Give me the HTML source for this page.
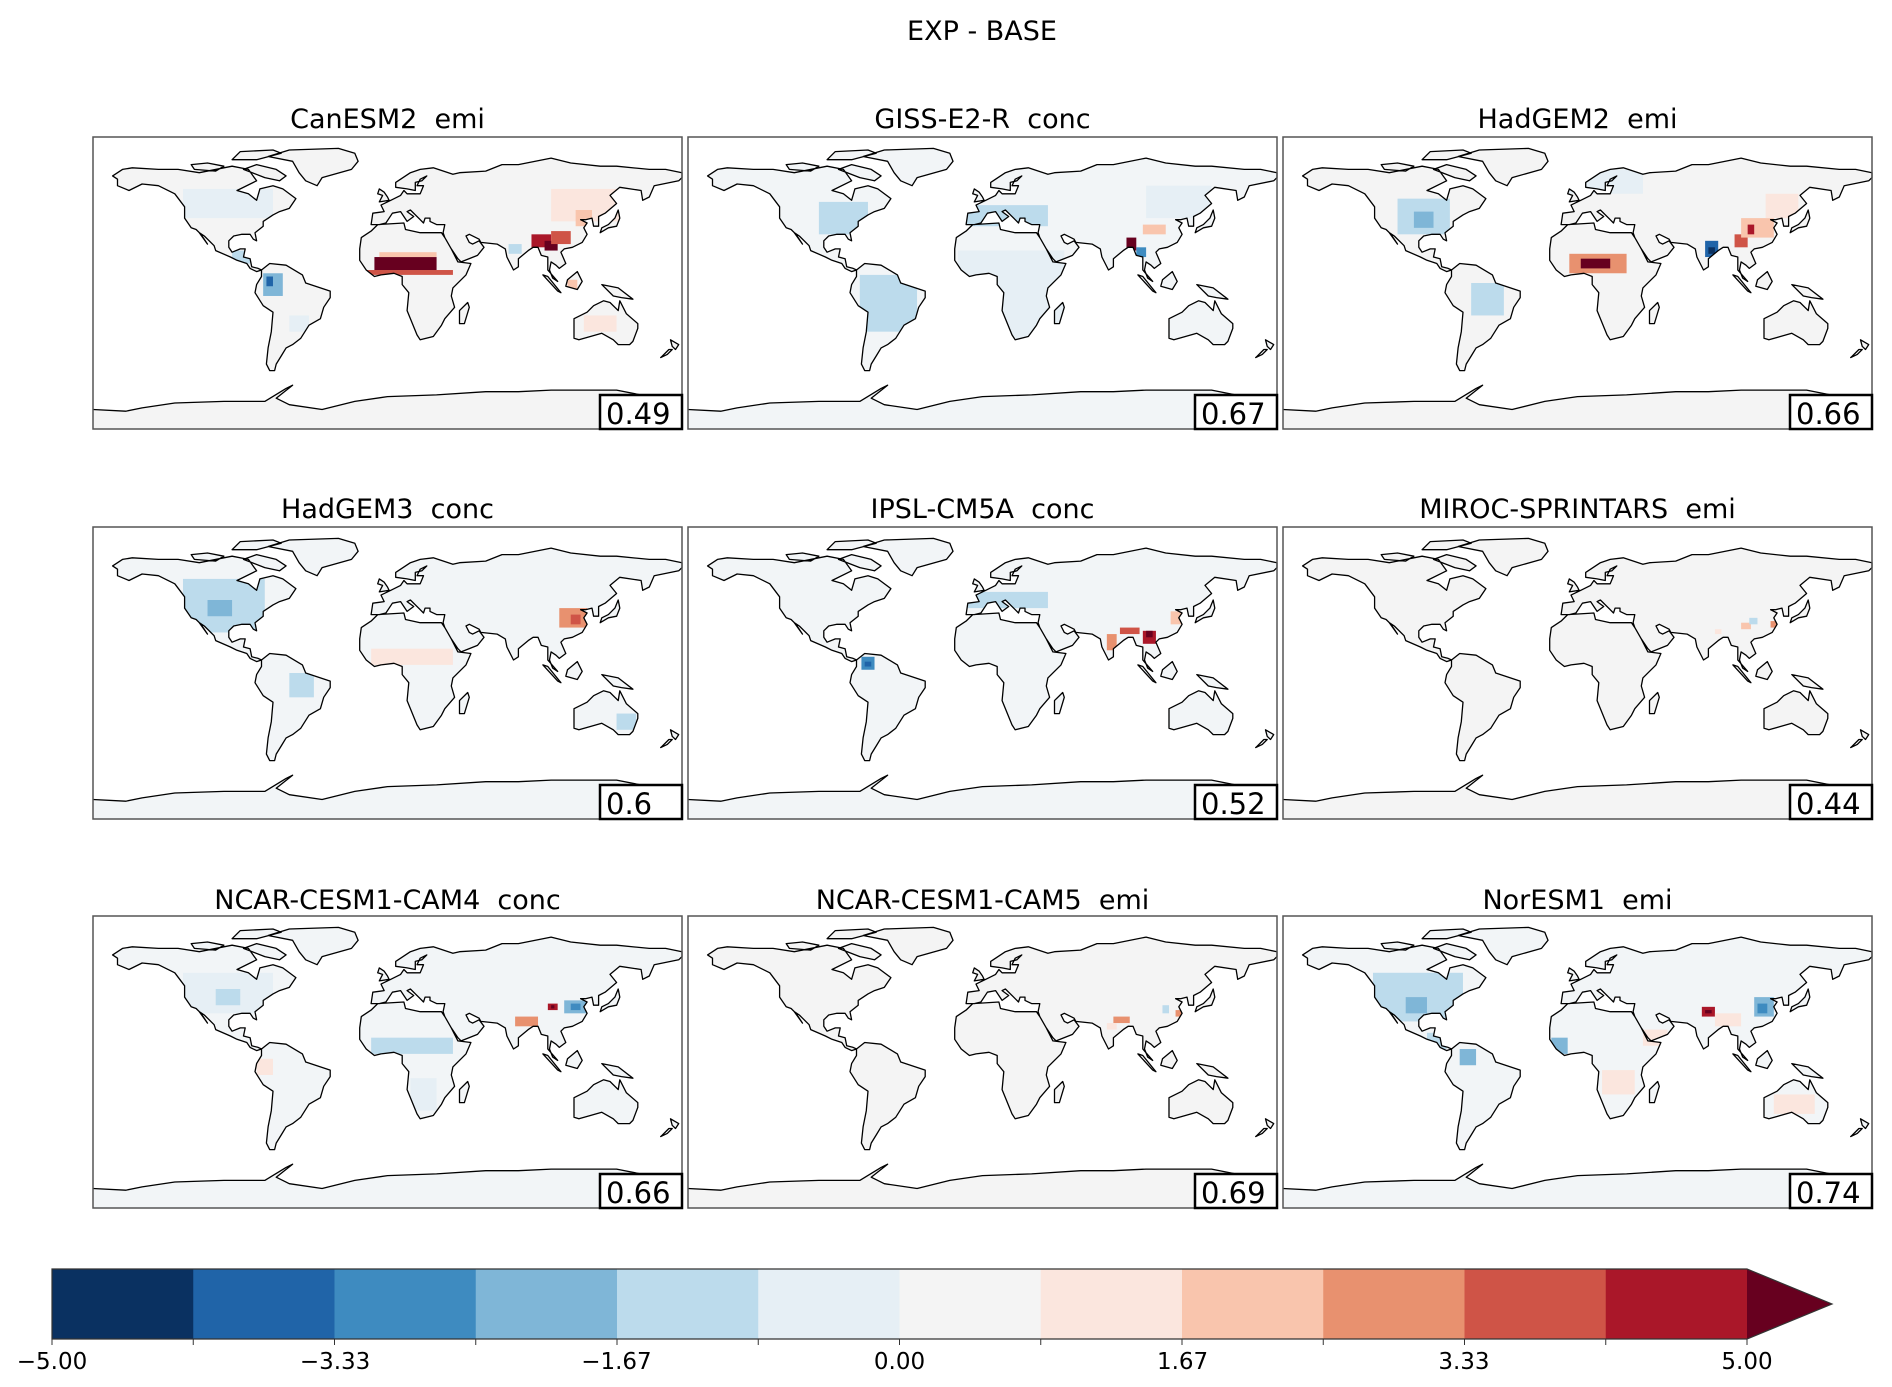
<!DOCTYPE html>
<html><head><meta charset="utf-8"><title>EXP - BASE</title>
<style>
html,body{margin:0;padding:0;background:#fff;}
svg{display:block;font-family:"DejaVu Sans","Liberation Sans",sans-serif;}
</style></head>
<body>
<svg id="fig" width="1892" height="1387" viewBox="0 0 1892 1387" xmlns="http://www.w3.org/2000/svg">
<text x="982" y="40" font-size="27" text-anchor="middle" fill="#000">EXP - BASE</text>
<g id="panels"></g>
<g id="cbar"></g>
</svg>
<script>
// ---- data ----
const modelNames = ["CanESM2  emi","GISS-E2-R  conc","HadGEM2  emi","HadGEM3  conc","IPSL-CM5A  conc","MIROC-SPRINTARS  emi","NCAR-CESM1-CAM4  conc","NCAR-CESM1-CAM5  emi","NorESM1  emi"];
const correlations = ["0.49","0.67","0.66","0.6","0.52","0.44","0.66","0.69","0.74"];
const landBaseValues = [0.1,-0.35,0.1,-0.3,-0.3,0.1,-0.3,0.1,-0.4];
const cbarTickValues = [-5.00,-3.33,-1.67,0.00,1.67,3.33,5.00];
const cbarTickLabels = ["\u22125.00","\u22123.33","\u22121.67","0.00","1.67","3.33","5.00"];
const levelColors = ["#0a3161","#2064a8","#3e8bc0","#7fb6d7","#bcdbec","#e6eff5","#f4f4f4","#fbe6de","#f9c5ad","#e8916f","#cf5447","#aa1729"];
const overColor = "#67001f";
// anomaly regions per model: [lon0, lat0, lon1, lat1, value]
const regCanESM2 = [[-125,40,-70,58,-0.6],[-95,12,-83,20,-1.6],[-76,-8,-64,6,-2.3],[-74,-2,-70,4,-3.6],[-60,-30,-48,-20,-0.8],[-16,5,40,8,3.6],[-8,8,30,16,6],[-5,16,30,19,2.2],[100,38,145,58,1.1],[115,35,125,45,2.0],[88,22,100,30,4.6],[96,20,104,26,6],[100,24,112,32,3.4],[74,18,82,24,-1.3],[99,2,104,9,3.5],[110,-4,116,2,2.4],[120,-30,140,-20,0.9]];
const regGISS = [[-100,30,-70,50,-1.0],[-10,35,40,48,-1.0],[-15,-35,50,20,-0.8],[88,20,94,28,6],[94,16,100,22,-2.6],[98,30,112,36,2.4],[-75,-30,-40,5,-0.9],[100,40,140,60,-0.6]];
const regHadGEM2 = [[-110,30,-78,52,-1.3],[-100,34,-88,44,-2.0],[-65,-20,-45,0,-1.2],[-5,6,30,18,2.6],[2,9,20,15,6],[78,16,86,26,-3.8],[80,18,84,22,-4.6],[96,22,104,30,3.8],[100,28,120,40,2.4],[104,30,108,36,4.6],[115,40,135,55,1.0],[-25,55,40,70,-0.5]];
const regHadGEM3 = [[-125,25,-75,58,-1.1],[-110,35,-95,45,-1.7],[105,28,122,40,2.6],[112,30,118,36,3.6],[140,-35,152,-25,-1.4],[-10,5,40,15,0.9],[-60,-15,-45,0,-1.0]];
const regIPSL = [[76,14,82,24,3.3],[84,24,96,28,3.5],[98,18,106,26,4.4],[100,22,104,26,6],[-74,2,-66,10,-2.8],[-72,4,-68,7,-3.8],[115,30,122,38,2.0],[120,-10,135,-4,1.5],[-10,40,40,50,-1.0]];
const regMIROC = [[100,27,106,31,1.8],[118,28,122,32,2.7],[84,24,88,27,1.6],[105,30,110,34,-1.2]];
const regCAM4 = [[-125,30,-70,55,-0.8],[-105,35,-90,45,-1.3],[108,30,122,38,-2.4],[112,32,118,36,-3.2],[78,22,92,28,3.0],[98,32,104,36,4.4],[100,33,102,35,6],[-80,-8,-70,2,1.2],[-10,5,40,15,-1.0],[14,-30,30,-10,-0.8]];
const regCAM5 = [[80,24,90,28,2.5],[110,30,114,35,-1.6],[118,28,122,32,2.6],[-120,55,-100,68,0.7],[76,20,82,24,1.2]];
const regNorESM1 = [[-125,25,-70,55,-0.9],[-105,30,-92,40,-1.7],[108,28,120,40,-2.2],[110,30,116,36,-3.0],[76,28,84,34,4.2],[78,30,82,32,6],[84,22,100,30,1.5],[-92,8,-80,18,-1.5],[-72,-2,-62,8,-2.0],[-16,5,-6,15,-2.3],[40,10,55,20,0.9],[15,-20,35,-5,0.9],[120,-32,145,-20,0.9]];
const modelRegions = [regCanESM2,regGISS,regHadGEM2,regHadGEM3,regIPSL,regMIROC,regCAM4,regCAM5,regNorESM1];
// coastlines (lon, lat) simplified
const coastNorthAmerica = [[-168,66],[-162,70],[-156,71],[-140,70],[-128,70],[-115,68],[-95,72],[-85,70],[-80,63],[-92,57],[-85,55],[-80,51],[-78,58],[-70,60],[-64,58],[-56,52],[-60,46],[-66,44],[-70,42],[-76,38],[-76,35],[-81,31],[-80,26],[-82,27],[-84,30],[-89,30],[-94,29],[-97,26],[-97,22],[-95,19],[-90,21],[-87,21],[-88,16],[-84,15],[-83,10],[-79,9],[-77,8],[-80,7],[-84,9],[-86,12],[-92,14],[-96,16],[-105,20],[-106,23],[-112,29],[-115,31],[-110,24],[-114,30],[-117,33],[-120,34],[-124,40],[-124,47],[-130,55],[-140,60],[-150,61],[-158,57],[-165,60],[-165,64]];
const coastSouthAmerica = [[-77,8],[-72,12],[-62,11],[-52,5],[-50,0],[-44,-2],[-35,-5],[-35,-9],[-39,-15],[-41,-22],[-48,-26],[-53,-34],[-58,-38],[-62,-40],[-65,-45],[-68,-50],[-69,-54],[-72,-54],[-74,-50],[-73,-40],[-71,-30],[-70,-18],[-76,-14],[-81,-6],[-80,-1],[-77,4]];
const coastGreenland = [[-73,78],[-60,82],[-30,83],[-20,80],[-18,75],[-22,70],[-40,65],[-43,60],[-50,63],[-54,68],[-58,75]];
const coastBaffin = [[-80,73],[-68,70],[-62,66],[-66,63],[-75,65],[-88,70]];
const coastEllesmere = [[-95,76],[-80,76],[-65,80],[-70,82],[-90,81]];
const coastVictoria = [[-118,70],[-105,69],[-100,72],[-110,74],[-120,73]];
const coastAfrica = [[-17,21],[-16,28],[-10,32],[-6,36],[10,37],[11,33],[20,31],[30,31],[33,31],[35,28],[39,21],[43,13],[51,12],[48,5],[40,-3],[39,-8],[41,-15],[35,-22],[33,-26],[28,-33],[20,-35],[18,-32],[12,-17],[13,-6],[9,-1],[9,4],[4,6],[-4,5],[-8,4],[-13,8],[-17,14]];
const coastEurasia = [[-10,36],[-9,43],[-2,44],[-4,48],[2,51],[8,54],[10,57],[12,55],[20,55],[22,60],[18,60],[20,64],[24,66],[21,63],[17,62],[17,57],[12,58],[5,59],[5,62],[14,68],[20,70],[28,71],[40,67],[44,68],[60,69],[70,73],[80,73],[100,77],[112,74],[130,72],[140,72],[160,70],[170,70],[180,68],[180,65],[178,63],[163,60],[160,53],[156,51],[155,57],[142,59],[136,54],[140,49],[133,43],[129,41],[129,35],[126,35],[125,40],[121,39],[118,39],[122,37],[120,34],[122,30],[119,25],[113,22],[108,21],[106,19],[109,12],[105,9],[103,11],[100,13],[99,8],[101,3],[104,1],[98,8],[98,16],[94,17],[92,22],[89,22],[86,20],[80,15],[80,10],[77,8],[73,16],[72,21],[67,24],[57,25],[56,27],[50,30],[48,29],[50,25],[52,24],[56,26],[59,22],[55,17],[45,13],[43,15],[39,21],[35,28],[34,31],[35,36],[30,36],[26,38],[26,40],[23,40],[22,37],[19,40],[14,45],[12,44],[16,41],[12,38],[8,44],[3,43],[-1,37],[-5,36]];
const coastBritain = [[-5,50],[1,51],[0,53],[-2,56],[-5,58],[-6,55],[-3,54]];
const coastJapan = [[130,31],[135,34],[140,35],[142,40],[141,45],[139,40],[135,36],[131,34]];
const coastBorneo = [[109,-2],[110,2],[116,7],[119,1],[116,-4]];
const coastSumatra = [[95,5],[98,4],[106,-6],[104,-5]];
const coastNewGuinea = [[131,-1],[141,-3],[150,-10],[143,-9],[138,-8]];
const coastMadagascar = [[44,-25],[47,-25],[50,-15],[49,-12],[44,-17]];
const coastNewZealand = [[167,-46],[171,-44],[174,-41],[172,-41],[168,-45]];
const coastNewZealandN = [[173,-35],[178,-38],[176,-41],[174,-39]];
const coastAustralia = [[114,-22],[114,-34],[117,-35],[124,-33],[131,-31],[138,-35],[141,-38],[148,-38],[150,-36],[153,-28],[153,-25],[146,-19],[142,-11],[141,-17],[136,-12],[132,-11],[126,-14],[122,-18]];
const coastAntarctica = [[-180,-78],[-160,-79],[-150,-77],[-130,-74],[-100,-73],[-75,-73],[-62,-65],[-58,-63],[-63,-67],[-68,-71],[-60,-75],[-40,-78],[-20,-73],[0,-70],[30,-69],[60,-67],[80,-67],[100,-66],[120,-66],[140,-66],[160,-70],[170,-72],[165,-78],[180,-78],[180,-90],[-180,-90]];
const coastlines = [coastNorthAmerica,coastSouthAmerica,coastGreenland,coastBaffin,coastEllesmere,coastVictoria,coastAfrica,coastEurasia,coastBritain,coastJapan,coastBorneo,coastSumatra,coastNewGuinea,coastMadagascar,coastNewZealand,coastNewZealandN,coastAustralia,coastAntarctica];

// ---- layout ----
const NS = "http://www.w3.org/2000/svg";
const colX = [93,688,1283], rowY = [137,527,916], PW = 589, PH = 292;
const titleY = [128,518,909];
function mk(tag, attrs, parent){const e=document.createElementNS(NS,tag);for(const k in attrs)e.setAttribute(k,attrs[k]);if(parent)parent.appendChild(e);return e;}
function colorFor(v){ if(v>5) return overColor; let i=Math.floor((v+5)/(10/12)); i=Math.max(0,Math.min(11,i)); return levelColors[i]; }

const panels = document.getElementById('panels');
const defs = mk('defs',{},document.getElementById('fig'));
modelNames.forEach((name,idx)=>{
  const c=idx%3, r=Math.floor(idx/3);
  const x0=colX[c], y0=rowY[r];
  const xs=lon=>x0+(lon+180)/360*PW;
  const ys=lat=>y0+(90-lat)/180*PH;
  const pt=p=>xs(p[0]).toFixed(1)+','+ys(p[1]).toFixed(1);
  const pathD = coastlines.map(poly=>'M'+poly.map(pt).join('L')+'Z').join(' ');
  const strokeD = coastlines.map(poly=>poly===coastAntarctica ? 'M'+poly.slice(0,-2).map(pt).join('L') : 'M'+poly.map(pt).join('L')+'Z').join(' ');
  const clip = mk('clipPath',{id:'land'+idx},defs);
  mk('path',{d:pathD},clip);
  const g = mk('g',{},panels);
  
  
  const t = mk('text',{x:x0+PW/2,y:titleY[r],'font-size':27,'text-anchor':'middle',fill:'#000'},g);
  
  
  t.textContent=name; t.style.whiteSpace='pre';
  mk('rect',{x:x0,y:y0,width:PW,height:PH,fill:'#fff'},g);
  const land = mk('g',{'clip-path':'url(#land'+idx+')'},g);
  
  
  mk('rect',{x:x0,y:y0,width:PW,height:PH,fill:colorFor(landBaseValues[idx]),'fill-opacity':landBaseValues[idx]<0?0.55:1},land);
  mk('rect',{x:x0,y:y0,width:PW,height:PH,fill:'#f4f4f4','fill-opacity':landBaseValues[idx]<0?0.45:0},land);
  modelRegions[idx].forEach(rg=>{
    const cell = mk('rect',{x:xs(rg[0]),y:ys(rg[3]),width:xs(rg[2])-xs(rg[0]),height:ys(rg[1])-ys(rg[3]),fill:colorFor(rg[4])},land);
    
    
  });
  const coast = mk('path',{d:strokeD,fill:'none',stroke:'#000','stroke-width':1.3,'stroke-linejoin':'round'},g);
  
  
  const frame = mk('rect',{x:x0,y:y0,width:PW,height:PH,fill:'none',stroke:'#555','stroke-width':1.5},g);
  
  
  const bw=82,bh=34;
  const box = mk('rect',{x:x0+PW-bw,y:y0+PH-bh,width:bw,height:bh,fill:'#fff',stroke:'#000','stroke-width':2.5},g);
  
  
  const ct = mk('text',{x:x0+PW-bw+6,y:y0+PH-5,'font-size':29,fill:'#000'},g);
  
  
  ct.textContent=correlations[idx];
});

// ---- colorbar ----
const cb = document.getElementById('cbar');
const cbX0=52, cbX1=1747, cbY0=1269, cbY1=1339, tipX=1832;
const cbx = v=>cbX0+(v+5)/10*(cbX1-cbX0);
levelColors.forEach((col,i)=>{
  const v0=-5+i*10/12, v1=-5+(i+1)*10/12;
  const r = mk('rect',{x:cbx(v0),y:cbY0,width:cbx(v1)-cbx(v0)+0.5,height:cbY1-cbY0,fill:col},cb);
  
  
});
const arrow = mk('polygon',{points:`${cbX1},${cbY0} ${tipX},${(cbY0+cbY1)/2} ${cbX1},${cbY1}`,fill:overColor},cb);


mk('polygon',{points:`${cbX0},${cbY0} ${cbX1},${cbY0} ${tipX},${(cbY0+cbY1)/2} ${cbX1},${cbY1} ${cbX0},${cbY1}`,fill:'none',stroke:'#333','stroke-width':1.2},cb);
for(let i=0;i<=12;i++){ const v=-5+i*10/12; mk('line',{x1:cbx(v),x2:cbx(v),y1:cbY1,y2:cbY1+6,stroke:'#333','stroke-width':1},cb); }
cbarTickValues.forEach((v,i)=>{
  const t = mk('text',{x:cbx(v),y:1369,'font-size':23,'text-anchor':'middle',fill:'#000'},cb);
  
  
  t.textContent=cbarTickLabels[i];
});
</script>
</body></html>
